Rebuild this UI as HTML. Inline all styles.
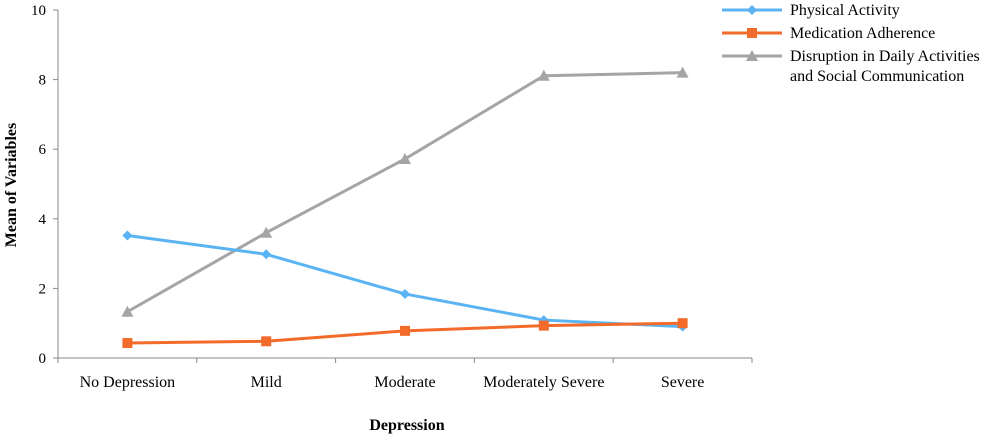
<!DOCTYPE html>
<html><head><meta charset="utf-8"><style>
body{margin:0;background:#fff;}
svg{font-family:"Liberation Serif",serif;}
</style></head><body>
<svg id="chart" width="1000" height="435" viewBox="0 0 1000 435">
<g id="axes"></g><g id="series"></g>
<g font-size="16" fill="#000">
 <g>
  <line x1="722" y1="10" x2="782" y2="10" stroke="#5AB4F4" stroke-width="3"/>
  <path d="M752 5 L757 10 L752 15 L747 10 Z" fill="#5AB4F4"/>
  <text x="790" y="15">Physical Activity</text></g>
 <g>
  <line x1="722" y1="33" x2="782" y2="33" stroke="#F26B2A" stroke-width="3"/>
  <rect x="747" y="28" width="10" height="10" fill="#F26B2A"/>
  <text x="790" y="38">Medication Adherence</text></g>
 <g>
  <line x1="722" y1="56" x2="782" y2="56" stroke="#A5A5A5" stroke-width="3"/>
  <path d="M752 50 L758 61 L746 61 Z" fill="#A5A5A5"/>
  <text x="790" y="61">Disruption in Daily Activities</text>
  <text x="790" y="81">and Social Communication</text></g>
</g>
<text transform="translate(16,185) rotate(-90)" text-anchor="middle" font-size="16" font-weight="bold">Mean of Variables</text>
<text x="407" y="430" text-anchor="middle" font-size="16" font-weight="bold">Depression</text>
</svg>
<script>
const categories=["No Depression","Mild","Moderate","Moderately Severe","Severe"];
const physicalActivity=[3.52,2.98,1.84,1.09,0.9];
const medicationAdherence=[0.43,0.48,0.78,0.93,1.0];
const disruption=[1.33,3.6,5.72,8.11,8.2];
const yTicks=[0,2,4,6,8,10];
const NS="http://www.w3.org/2000/svg";
const x0=58,x1=752,y0=358,y1=10;
function xs(i){return x0+(x1-x0)*(i+0.5)/categories.length;}
function ys(v){return y0-(y0-y1)*v/10;}
function mk(t,a,p){const e=document.createElementNS(NS,t);for(const k in a)e.setAttribute(k,a[k]);p.appendChild(e);return e;}
const ax=document.getElementById('axes');
const yl=mk('line',{x1:x0,y1:y1,x2:x0,y2:y0,stroke:'#888'},ax);


const xl=mk('line',{x1:x0,y1:y0,x2:x1,y2:y0,stroke:'#888'},ax);


yTicks.forEach(v=>{
 mk('line',{x1:x0-5,y1:ys(v),x2:x0,y2:ys(v),stroke:'#888'},ax);
 const t=mk('text',{x:x0-12,y:ys(v)+5,'text-anchor':'end','font-size':15},ax);
 t.textContent=v;
 
 
});
for(let i=0;i<=categories.length;i++){
 const xx=x0+(x1-x0)*i/categories.length;
 mk('line',{x1:xx,y1:y0,x2:xx,y2:y0+5,stroke:'#888'},ax);
}
categories.forEach((c,i)=>{
 const t=mk('text',{x:xs(i),y:387,'text-anchor':'middle','font-size':16},ax);
 t.textContent=c;
 
 
});
const sg=document.getElementById('series');
function series(vals,color,shape,name){
 const g=mk('g',{},sg);
 
 
 mk('polyline',{points:vals.map((v,i)=>xs(i)+','+ys(v)).join(' '),fill:'none',stroke:color,'stroke-width':3},g);
 vals.forEach((v,i)=>{
  const x=xs(i),y=ys(v);let m;
  if(shape==='d')m=mk('path',{d:`M${x} ${y-5}L${x+5} ${y}L${x} ${y+5}L${x-5} ${y}Z`,fill:color},g);
  else if(shape==='s')m=mk('rect',{x:x-5,y:y-5,width:10,height:10,fill:color},g);
  else m=mk('path',{d:`M${x} ${y-6}L${x+6} ${y+5}L${x-6} ${y+5}Z`,fill:color},g);
  
  
 });
}
series(disruption,'#A5A5A5','t','series-disruption');
series(physicalActivity,'#5AB4F4','d','series-physical-activity');
series(medicationAdherence,'#F26B2A','s','series-medication-adherence');
</script>
</body></html>
